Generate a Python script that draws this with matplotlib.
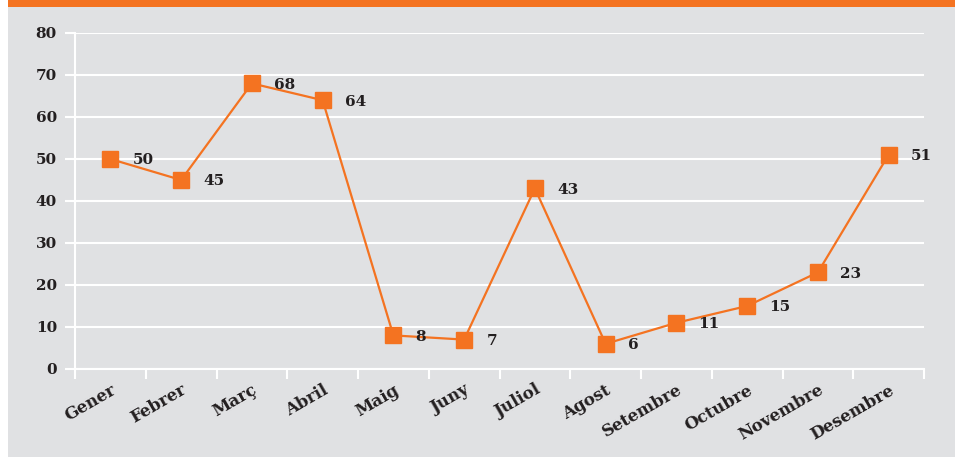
import matplotlib

matplotlib.use('Agg')
import matplotlib.pyplot as plt
from matplotlib.patches import Rectangle
import numpy as np

months = ['Gener', 'Febrer', 'Març', 'Abril', 'Maig', 'Juny', 'Juliol',
          'Agost', 'Setembre', 'Octubre', 'Novembre', 'Desembre']
values = [50, 45, 68, 64, 8, 7, 43, 6, 11, 15, 23, 51]
y_ticks = [0, 10, 20, 30, 40, 50, 60, 70, 80]

orange = '#f47321'
bg = '#e0e1e3'
txt = '#231f20'

plt.rcParams['font.family'] = ['DejaVu Serif']

fig = plt.figure(figsize=(9.55, 4.57), dpi=100)
fig.patch.set_facecolor('white')
# gray panel + orange band on top
fig.patches.append(Rectangle((8 / 955, 0), 1, 1, transform=fig.transFigure,
                             facecolor=bg, edgecolor='none', zorder=-2))
fig.patches.append(Rectangle((8 / 955, 1 - 7 / 457), 1, 7 / 457, transform=fig.transFigure,
                             facecolor=orange, edgecolor='none', zorder=-1))

ax = fig.add_axes([75 / 955, 1 - 369 / 457, 849 / 955, 336 / 457])
ax.set_facecolor('none')
ax.set_zorder(5)

x = np.arange(len(months))
ax.plot(x, values, color=orange, lw=1.6, marker='s', ms=12, mec=orange, mfc=orange,
        zorder=3, clip_on=False)
for xi, v in zip(x, values):
    ax.annotate(str(v), (xi, v), xytext=(16, -1), textcoords='offset points',
                ha='left', va='center', fontsize=11, fontweight='bold', color=txt)

ax.set_xlim(-0.5, len(months) - 0.5)
ax.set_ylim(0, 80)
ax.set_yticks(y_ticks)
ax.yaxis.grid(True, color='white', lw=1.5)
ax.set_axisbelow(True)

for s in ['top', 'right']:
    ax.spines[s].set_visible(False)
for s in ['left', 'bottom']:
    ax.spines[s].set_color('white')
    ax.spines[s].set_linewidth(1.5)

ax.set_xticks(x)
ax.set_xticklabels(months, rotation=30, ha='right', rotation_mode='anchor',
                   fontsize=12, fontweight='bold', color=txt)
ax.set_xticks(np.arange(-0.5, len(months)), minor=True)
ax.tick_params(axis='x', which='major', length=0, pad=9)
ax.tick_params(axis='x', which='minor', length=7, width=1.5, color='white')
ax.tick_params(axis='y', length=7, width=1.5, color='white', pad=6,
               labelsize=11, labelcolor=txt)
for lab in ax.get_yticklabels():
    lab.set_fontweight('bold')

fig.savefig('out.png', dpi=100)
